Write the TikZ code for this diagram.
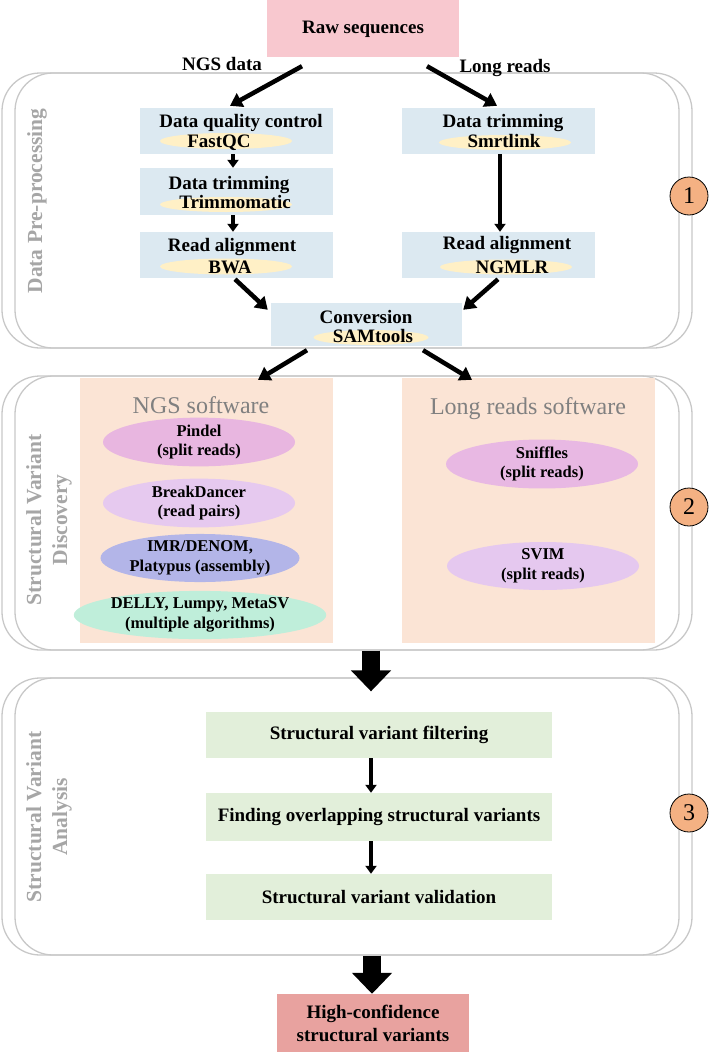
\documentclass[tikz,border=0pt]{standalone}
\usepackage{fontspec}
\setmainfont{Liberation Serif}
\usetikzlibrary{arrows.meta,shapes.geometric}
\definecolor{rawpink}{HTML}{F8C8CF}
\definecolor{boxblue}{HTML}{DCE9F1}
\definecolor{ellyel}{HTML}{FFF0C6}
\definecolor{peach}{HTML}{FBE4D5}
\definecolor{cpindel}{HTML}{E8B6E0}
\definecolor{cbreak}{HTML}{E6C9EF}
\definecolor{cimr}{HTML}{B3B5E8}
\definecolor{cdelly}{HTML}{BFEEDA}
\definecolor{csniff}{HTML}{E8B8E3}
\definecolor{csvim}{HTML}{E5C8EF}
\definecolor{cgreen}{HTML}{E2EFDA}
\definecolor{cfinal}{HTML}{E8A29F}
\definecolor{circfill}{HTML}{F4B183}
\definecolor{framegray}{HTML}{C8C8C8}
\definecolor{sidegray}{HTML}{A6A6A6}
\definecolor{headgray}{HTML}{808080}
\begin{document}
\begin{tikzpicture}[x=1pt,y=-1pt,
  frame/.style={draw=framegray, line width=1.3pt, rounded corners=38pt, inner sep=0pt, minimum height=#1},
  bbox/.style={fill=boxblue, inner sep=0pt, minimum width=193pt, minimum height=46pt},
  yel/.style={ellipse, fill=ellyel, inner sep=0pt, minimum width=132pt, minimum height=16pt},
  bt/.style={font=\fontsize{19}{21}\selectfont\bfseries, inner sep=0pt, anchor=base},
  sw/.style={ellipse, inner sep=0pt, minimum width=192pt, minimum height=44pt, align=center, font=\fontsize{16.5}{19.5}\selectfont\bfseries},
  side/.style={rotate=90, text=sidegray, inner sep=0pt, font=\fontsize{21.5}{26}\selectfont\bfseries, align=center},
  head/.style={text=headgray, inner sep=0pt, anchor=base, font=\fontsize{24}{26}\selectfont},
  num/.style={circle, draw=black, line width=0.8pt, fill=circfill, minimum size=38pt, inner sep=0pt, font=\fontsize{24}{26}\selectfont},
  gbox/.style={fill=cgreen, inner sep=0pt, minimum width=346pt, font=\fontsize{19}{21}\selectfont\bfseries},
  arr/.style={line width=4.5pt, -{Triangle[length=12pt,width=15pt]}},
  sarr/.style={line width=4pt, -{Triangle[length=8pt,width=11pt]}},
  fat/.style={line width=18pt, -{Triangle[length=21pt,width=39pt]}}
]
\useasboundingbox (0,0) rectangle (710,1052);

% frames
\node[frame=275pt, minimum width=690pt] (f1o) at (347,210.5) {};
\node[frame=275pt, minimum width=664pt] (f1i) at (347,210.5) {};
\node[frame=274pt, minimum width=690pt] (f2o) at (347,513) {};
\node[frame=274pt, minimum width=664pt] (f2i) at (347,513) {};
\node[frame=277pt, minimum width=690pt] (f3o) at (347,816.5) {};
\node[frame=277pt, minimum width=664pt] (f3i) at (347,816.5) {};

% side labels
\node[side] (lab1) at (37,201) {Data Pre-processing};
\node[side] (lab2) at (49,520) {Structural Variant\\Discovery};
\node[side] (lab3) at (49,817) {Structural Variant\\Analysis};

% raw sequences
\node[fill=rawpink, minimum width=192pt, minimum height=57pt, inner sep=0pt] (raw) at (363,28.5) {};
\node[bt] (rawT) at (363,33) {Raw sequences};
\node[bt] (ngsT) at (222,70) {NGS data};
\node[bt] (lrT) at (505,72) {Long reads};

% pre-processing boxes
\node[bbox] (dqc) at (236.5,131) {};
\node[bt] (dqcT) at (241,127) {Data quality control};
\node[yel] (dqcE) at (226,141) {};
\node[bt] (dqcS) at (219,147) {FastQC};

\node[bbox, minimum height=47pt] (trim) at (236.5,191.5) {};
\node[bt] (trimT) at (229,189) {Data trimming};
\node[yel, minimum height=15pt] (trimE) at (226,204.5) {};
\node[bt] (trimS) at (235,208) {Trimmomatic};

\node[bbox] (bwa) at (236.5,255) {};
\node[bt] (bwaT) at (232,251) {Read alignment};
\node[yel] (bwaE) at (226,266.5) {};
\node[bt] (bwaS) at (230,273) {BWA};

\node[bbox] (smrt) at (498.5,131) {};
\node[bt] (smrtT) at (503,127) {Data trimming};
\node[yel, minimum height=15pt] (smrtE) at (505,142.5) {};
\node[bt] (smrtS) at (504,147) {Smrtlink};

\node[bbox] (ngmlr) at (498.5,255) {};
\node[bt] (ngmlrT) at (507,249) {Read alignment};
\node[yel, minimum height=15pt] (ngmlrE) at (506,267) {};
\node[bt] (ngmlrS) at (512,273) {NGMLR};

\node[bbox, minimum width=191pt, minimum height=43pt] (conv) at (366.5,324.5) {};
\node[bt] (convT) at (366,323) {Conversion};
\node[yel, minimum width=115pt, minimum height=15pt] (convE) at (371,337.5) {};
\node[bt] (convS) at (373,342) {SAMtools};

% discovery panels
\node[fill=peach, minimum width=253pt, minimum height=265pt, inner sep=0pt] (ngsP) at (206.5,510.5) {};
\node[fill=peach, minimum width=253pt, minimum height=265pt, inner sep=0pt] (lrP) at (528.5,510.5) {};
\node[head] (ngsH) at (201,413) {NGS software};
\node[head] (lrH) at (528,414) {Long reads software};

\node[sw, fill=cpindel, minimum height=42pt] (pindel) at (199,442) {Pindel\\(split reads)};
\node[sw, fill=cbreak] (breakd) at (199,503) {BreakDancer\\(read pairs)};
\node[sw, fill=cimr, minimum width=193pt] (imr) at (200,558) {IMR/DENOM,\\Platypus (assembly)};
\node[sw, fill=cdelly, minimum width=193pt] (delly) at (200,615) {DELLY, Lumpy, MetaSV\\(multiple algorithms)};
\node[sw, fill=csniff, minimum height=45pt] (sniff) at (542,464) {Sniffles\\(split reads)};
\node[sw, fill=csvim] (svim) at (543,566) {SVIM\\(split reads)};

% analysis boxes
\node[gbox, minimum height=46pt] (g1) at (379,735) {Structural variant filtering};
\node[gbox, minimum height=48pt] (g2) at (379,817) {Finding overlapping structural variants};
\node[gbox, minimum height=46pt] (g3) at (379,897) {Structural variant validation};

\node[fill=cfinal, minimum width=192pt, minimum height=58pt, inner sep=0pt, align=center,
      font=\fontsize{19}{23}\selectfont\bfseries] (final) at (373,1023) {High-confidence\\structural variants};

% number circles
\node[num] (n1) at (689,196) {1};
\node[num] (n2) at (689,507) {2};
\node[num] (n3) at (689,813) {3};

% connectors
\draw[arr] ([xshift=-61pt,yshift=-9pt]raw.south) -- ([xshift=-6.5pt,yshift=2pt]dqc.north);
\draw[arr] ([xshift=64pt,yshift=-9pt]raw.south) -- ([xshift=-1.5pt,yshift=2pt]smrt.north);
\draw[sarr] ([xshift=-3.5pt]dqc.south) -- ([xshift=-3.5pt]trim.north);
\draw[sarr] ([xshift=-3.5pt]trim.south) -- ([xshift=-3.5pt]bwa.north);
\draw[sarr] ([xshift=1.5pt]smrt.south) -- ([xshift=1.5pt]ngmlr.north);
\draw[arr] ([xshift=-1.5pt,yshift=-1pt]bwa.south) -- ([xshift=-3pt,yshift=-7pt]conv.north west);
\draw[arr] ([xshift=-0.5pt,yshift=-1pt]ngmlr.south) -- ([xshift=1pt,yshift=-7pt]conv.north east);
\draw[arr] ([xshift=-59.5pt,yshift=-4pt]conv.south) -- ([xshift=51.5pt,yshift=-2pt]ngsP.north);
\draw[arr] ([xshift=56.5pt,yshift=-4pt]conv.south) -- ([xshift=-56.5pt,yshift=-2pt]lrP.north);
\draw[fat] ([xshift=24pt]f2o.south) -- ([xshift=24pt,yshift=-14pt]f3o.north);
\draw[sarr] ([xshift=-8pt]g1.south) -- ([xshift=-8pt]g2.north);
\draw[sarr] ([xshift=-8pt]g2.south) -- ([xshift=-8pt]g3.north);
\draw[fat] ([xshift=-1pt]final.north |- f3o.south) -- ([xshift=-1pt]final.north);
\end{tikzpicture}
\end{document}
